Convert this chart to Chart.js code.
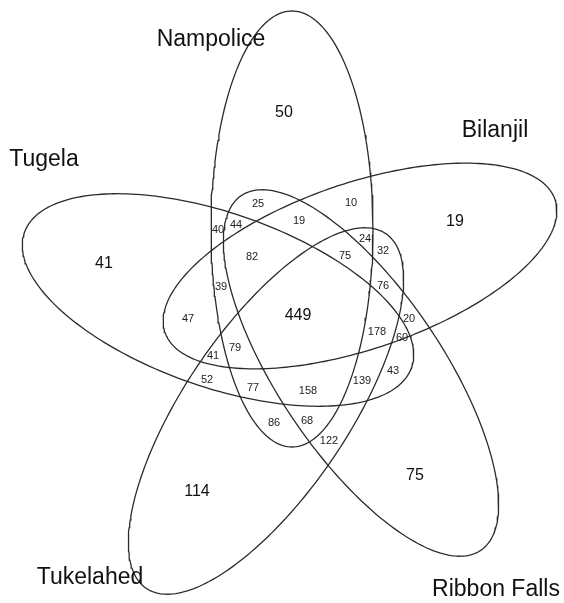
<!DOCTYPE html>
<html>
<head>
<meta charset="utf-8">
<script src="https://cdn.jsdelivr.net/npm/chart.js@4.4.1/dist/chart.umd.min.js"></script>
<style>
  html, body { margin:0; padding:0; background:#fff; }
  #wrap { width:564px; height:603px; position:relative; }
</style>
</head>
<body>
<div id="wrap"><canvas id="venn"></canvas></div>
<script>
/* ---- data ---- */
const setNames = ["Nampolice", "Bilanjil", "Tugela", "Tukelahed", "Ribbon Falls"];

// counts for the 31 regions (first five = single-set regions, then the rest)
const regionCounts = [
  50, 19, 41, 114, 75,
  449,
  25, 10, 19, 40, 44, 82, 24, 32, 75, 39, 76,
  47, 20, 178, 60, 41, 79, 52, 77, 158, 139, 43,
  86, 68, 122
];

/* ---- layout (kept apart from the data) ---- */
// ellipse: centre x, centre y, half length, half width, tilt in degrees
const ellipseGeom = [
  [292, 229, 218, 81, 90],
  [360, 266, 206, 83, -18.8],
  [218, 300, 205, 87, 19.2],
  [266, 411, 214, 82, -56],
  [361, 373, 214, 82, 56]
];
const namePos = [[211, 40], [495, 131], [44, 160], [90, 578], [496, 590]];
const countPos = [
  [284, 113], [455, 222], [104, 264], [197, 492], [415, 476],
  [298, 316],
  [258, 204], [351, 203], [299, 221], [218, 230], [236, 225], [252, 257], [365, 239], [383, 251], [345, 256], [221, 287], [383, 286],
  [188, 319], [409, 319], [377, 332], [402, 338], [213, 356], [235, 348], [207, 380], [253, 388], [308, 391], [362, 381], [393, 371],
  [274, 423], [307, 421], [329, 441]
];

/* HELPERS */
function ellipseOutline(g){
  const [cx, cy, a, b, deg] = g;
  const phi = deg * Math.PI / 180;
  const pts = [];
  const n = 240;
  for(let i=0;i<=n;i++){
    const t = i / n * Math.PI * 2;
    pts.push({
      x: cx + a*Math.cos(t)*Math.cos(phi) - b*Math.sin(t)*Math.sin(phi),
      y: cy + a*Math.cos(t)*Math.sin(phi) + b*Math.sin(t)*Math.cos(phi)
    });
  }
  return pts;
}

/* labels plugin */
const vennLabels = {
  id: "vennLabels",
  afterDatasetsDraw(chart){
    const {ctx, scales:{x, y}} = chart;
    ctx.save();
    ctx.textAlign = "center";
    ctx.textBaseline = "middle";

    ctx.fillStyle = "#111";
    ctx.font = "23px 'Liberation Sans', Arial, sans-serif";
    setNames.forEach((name,i)=>{
      ctx.fillText(name, x.getPixelForValue(namePos[i][0]), y.getPixelForValue(namePos[i][1]));
    });

    regionCounts.forEach((c,i)=>{
      const big = i < 6;
      ctx.fillStyle = big ? "#111" : "#222";
      ctx.font = (big ? "16px" : "11px") + " 'Liberation Sans', Arial, sans-serif";
      ctx.fillText(String(c), x.getPixelForValue(countPos[i][0]), y.getPixelForValue(countPos[i][1]));
    });
    ctx.restore();
  }
};

new Chart(document.getElementById("venn"), {
  type: "scatter",
  data: {
    datasets: setNames.map((name,i)=>({
      label: name,
      data: ellipseOutline(ellipseGeom[i]),
      showLine: true,
      borderColor: "#2b2b2b",
      borderWidth: 1.3,
      pointRadius: 0,
      tension: 0,
      fill: false
    }))
  },
  options: {
    responsive: true,
    maintainAspectRatio: false,
    animation: false,
    layout: { padding: 0 },
    plugins: { legend: { display:false }, tooltip: { enabled:false } },
    scales: {
      x: { type:"linear", min:0, max:564, display:false },
      y: { type:"linear", min:0, max:603, reverse:true, display:false }
    }
  },
  plugins: [vennLabels]
});
</script>
</body>
</html>
